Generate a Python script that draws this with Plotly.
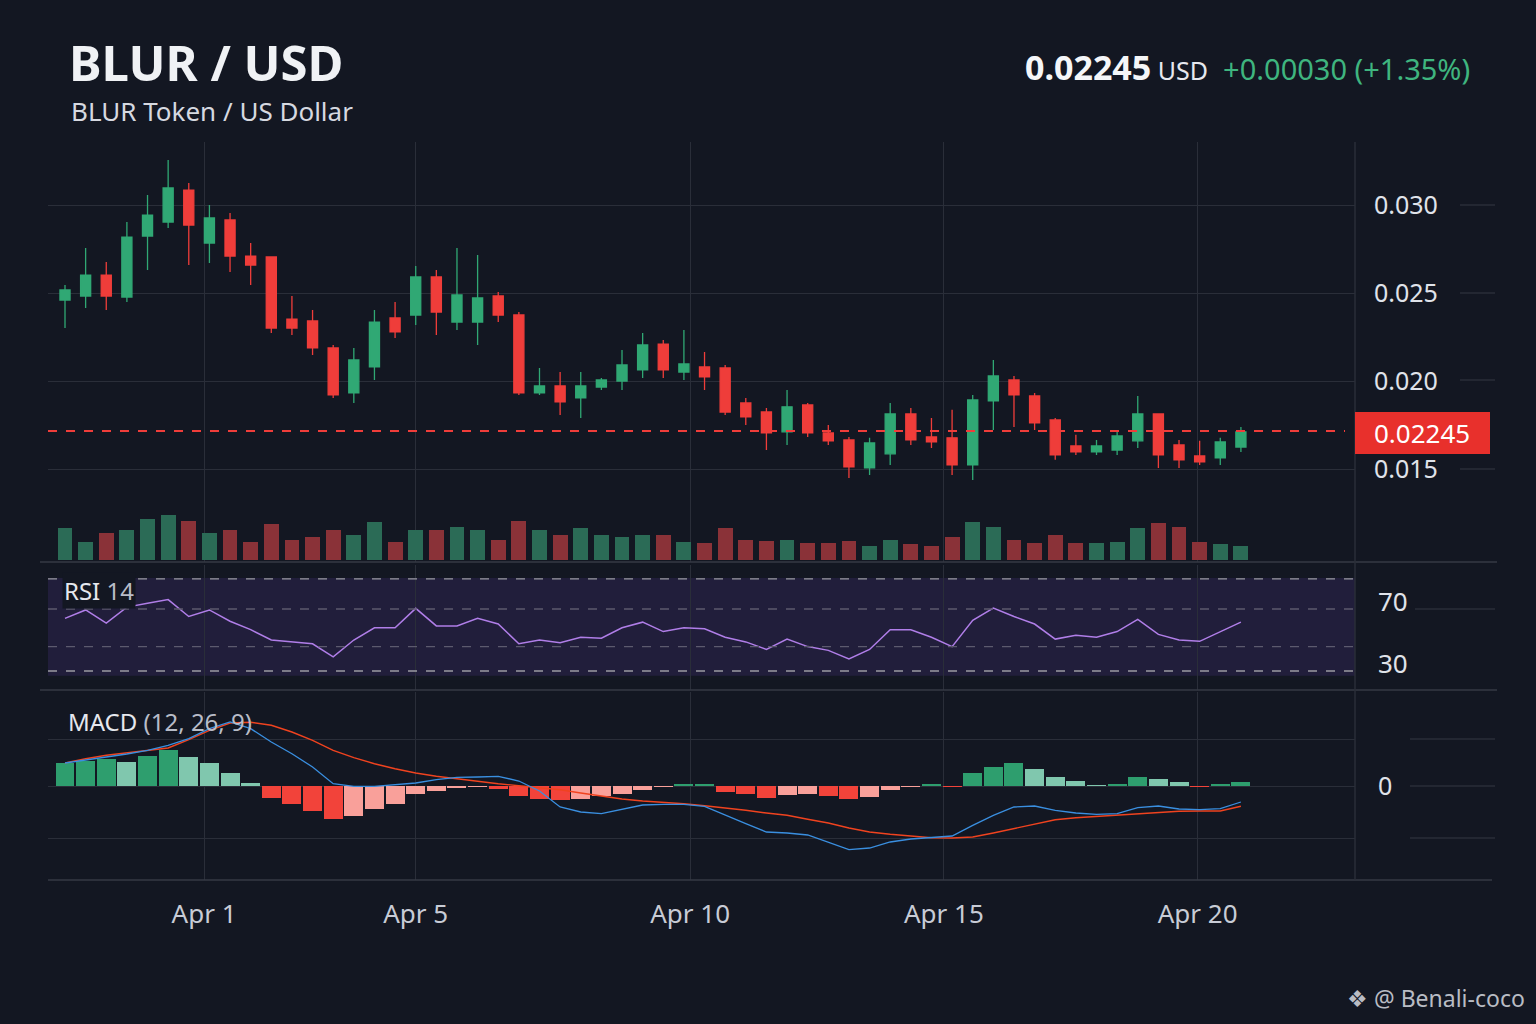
import plotly.graph_objects as go

W, H = 1536, 1024
BG = "#131722"
GRID = "#2a2e39"
GREEN = "#30a874"
RED = "#ef3d3a"

# ---------------- data ----------------
opens = [0.02460,0.02483,0.02602,0.02477,0.02824,0.02903,0.03085,0.02784,0.02915,0.02710,
         0.02705,0.02352,0.02341,0.02188,0.01932,0.02080,0.02358,0.02375,0.02591,0.02335,
         0.02335,0.02483,0.02375,0.01932,0.01972,0.01904,0.01966,0.02000,0.02063,0.02210,
         0.02051,0.02080,0.02074,0.01875,0.01824,0.01711,0.01864,0.01705,0.01665,0.01506,
         0.01586,0.01813,0.01682,0.01677,0.01523,0.01887,0.02006,0.01915,0.01779,0.01631,
         0.01597,0.01608,0.01660,0.01813,0.01637,0.01574,0.01563,0.01625]
closes = [0.02517,0.02602,0.02483,0.02818,0.02943,0.03097,0.02886,0.02926,0.02710,0.02659,
          0.02301,0.02301,0.02188,0.01921,0.02120,0.02335,0.02279,0.02591,0.02392,0.02489,
          0.02472,0.02375,0.01932,0.01972,0.01881,0.01972,0.02006,0.02091,0.02205,0.02063,
          0.02097,0.02023,0.01824,0.01796,0.01705,0.01853,0.01705,0.01660,0.01512,0.01648,
          0.01813,0.01665,0.01654,0.01523,0.01892,0.02029,0.01921,0.01762,0.01580,0.01597,
          0.01631,0.01688,0.01813,0.01580,0.01552,0.01540,0.01654,0.01711]
highs = [0.02546,0.02756,0.02676,0.02903,0.03057,0.03256,0.03125,0.03000,0.02955,0.02784,
         0.02705,0.02483,0.02404,0.02205,0.02188,0.02404,0.02449,0.02654,0.02631,0.02756,
         0.02716,0.02506,0.02392,0.02074,0.02051,0.02051,0.02017,0.02176,0.02273,0.02233,
         0.02290,0.02165,0.02091,0.01904,0.01847,0.01949,0.01875,0.01750,0.01682,0.01677,
         0.01875,0.01847,0.01790,0.01836,0.01921,0.02120,0.02029,0.01932,0.01790,0.01694,
         0.01665,0.01722,0.01915,0.01813,0.01665,0.01660,0.01677,0.01739]
lows = [0.02301,0.02415,0.02404,0.02449,0.02631,0.02869,0.02659,0.02671,0.02619,0.02546,
        0.02273,0.02262,0.02148,0.01904,0.01875,0.02006,0.02245,0.02318,0.02262,0.02290,
        0.02205,0.02335,0.01921,0.01921,0.01807,0.01790,0.01949,0.01949,0.02017,0.02017,
        0.02006,0.01949,0.01807,0.01750,0.01608,0.01637,0.01682,0.01637,0.01449,0.01466,
        0.01523,0.01637,0.01620,0.01466,0.01438,0.01722,0.01739,0.01722,0.01552,0.01580,
        0.01580,0.01580,0.01620,0.01506,0.01506,0.01523,0.01523,0.01597]
volume_m = [3.2,1.8,2.7,3.0,4.1,4.5,3.9,2.7,3.0,1.8,3.6,2.0,2.3,3.0,2.5,3.8,1.8,3.0,3.0,3.3,
            3.0,2.0,3.9,3.0,2.5,3.2,2.5,2.3,2.5,2.5,1.8,1.7,3.2,2.0,1.9,2.0,1.7,1.7,1.9,1.4,
            2.0,1.6,1.4,2.3,3.8,3.3,2.0,1.7,2.5,1.7,1.7,1.8,3.2,3.7,3.3,1.8,1.6,1.4]
rsi = [60,69,55,72,76,80,62,69,57,48,37,35,33,19,37,50,50,70.7,52,52,
       60,54,33,37,34,40,39,50,56,46,50,49,40,35,27,38,30,26,17,27,
       48,48,40,30,58,71,62,54,38,42,40,46,59,43,37,35.6,46,56]
macd = [23,25.7,29,32,35.7,40.7,47.3,57.3,64,57.3,44,32.3,19,2.3,-0.3,-0.3,1,3,6.3,8.7,
        9,9.7,5,-5,-21,-26,-27.7,-23.7,-19,-18.3,-18.3,-20.3,-29.3,-37.7,-46,-47,-49,-56,-63.7,-62,
        -56,-53,-51.7,-50,-39.3,-29.3,-21,-20,-24.3,-27,-28.3,-27.7,-21.7,-20,-23,-23.7,-22.7,-16]
signal = [23,27.3,30.7,33,35,38,46.3,55.7,63,63.7,60.7,54,45.7,35.7,28.3,22.3,17.3,13,9.7,7,
          4.7,2.3,0.3,-1.7,-3.7,-7,-10.3,-13,-15,-16.3,-17.7,-19.7,-21.7,-24.3,-27,-29.3,-33.3,-37,-42,-46,
          -48.3,-50.3,-51.7,-52,-51,-47,-42.7,-38.3,-33.7,-31.7,-30.3,-29.3,-27.7,-26.3,-25.3,-25,-25,-20.3]
hist = [23,24.7,26.7,24,30,35.7,29,23,13.3,3.3,-11.7,-18.3,-25.3,-32.7,-30.3,-23.3,-18.3,-7.7,-5.3,-1.7,
        -0.5,-2.7,-10,-12.7,-14.3,-13.3,-10.3,-7.7,-4.3,-0.7,1.5,2.3,-6,-8.3,-11.7,-9.3,-8.3,-10,-13.3,-11,
        -4.3,-0.5,1.2,-0.5,13,19,23,16.7,9,4.7,1.0,2.3,9,7.3,4,-0.5,1.7,4]
macd_scale = 1e-5
macd = [v * macd_scale for v in macd]
signal = [v * macd_scale for v in signal]
hist = [v * macd_scale for v in hist]

tick_labels = ["Apr 1", "Apr 5", "Apr 10", "Apr 15", "Apr 20"]
tick_pos = [6.74, 17.0, 30.3, 42.6, 54.9]
last_price_level = 0.01716
last_price_text = "0.02245"

idx = list(range(len(opens)))

def px(x): return x / W
def py(y): return 1 - y / H

x_left, x_right = 48, 1355
step = 20.63
x_range = [(x_left - 65) / step, (x_right - 65) / step]

fig = go.Figure()

fig.add_trace(go.Candlestick(x=idx, open=opens, high=highs, low=lows, close=closes,
    increasing=dict(line=dict(color=GREEN, width=1.3), fillcolor=GREEN),
    decreasing=dict(line=dict(color=RED, width=1.3), fillcolor=RED),
    whiskerwidth=0, xaxis="x", yaxis="y", showlegend=False))

vol_colors = ["#2b6b56" if c >= o else "#8a3238" for o, c in zip(opens, closes)]
fig.add_trace(go.Bar(x=idx, y=volume_m, marker=dict(color=vol_colors, line=dict(width=0)),
    width=0.72, xaxis="x", yaxis="y2", showlegend=False))

fig.add_trace(go.Scatter(x=idx, y=rsi, mode="lines", line=dict(color="#b07ee8", width=1.5),
    xaxis="x2", yaxis="y3", showlegend=False))

hcols = []
for i, h in enumerate(hist):
    prev = hist[i - 1] if i > 0 else 0
    if h >= 0:
        hcols.append("#2e9e6e" if h >= prev else "#80c7ae")
    else:
        hcols.append("#f2433a" if h <= prev else "#f9a09a")
fig.add_trace(go.Bar(x=idx, y=hist, marker=dict(color=hcols, line=dict(width=0)), width=0.92,
    xaxis="x3", yaxis="y4", showlegend=False))
fig.add_trace(go.Scatter(x=idx, y=signal, mode="lines", line=dict(color="#f0431f", width=1.4),
    xaxis="x3", yaxis="y4", showlegend=False))
fig.add_trace(go.Scatter(x=idx, y=macd, mode="lines", line=dict(color="#3a8fe0", width=1.3),
    xaxis="x3", yaxis="y4", showlegend=False))

p_top, p_bot = 142, 562
ppx = 17600.0
price_range = [0.030 - (p_bot - 205) / ppx, 0.030 + (205 - p_top) / ppx]
vmax = max(volume_m)
vol_range = [-(2 / 45) * vmax, vmax * (p_bot - p_top) / 45]
r_top, r_bot = 565, 690
rsi_range = [70 - (r_bot - 609) / 0.94, 70 + (609 - r_top) / 0.94]
m_top, m_bot = 692, 880
macd_range = [-(m_bot - 786) * macd_scale, (786 - m_top) * macd_scale]

xcommon = dict(range=x_range, domain=[px(x_left), px(x_right)], showgrid=True, gridcolor=GRID,
               gridwidth=1, tickvals=tick_pos, zeroline=False, showline=False)

fig.update_layout(
    width=W, height=H, paper_bgcolor=BG, plot_bgcolor=BG,
    margin=dict(l=0, r=0, t=0, b=0), bargap=0, showlegend=False,
    font=dict(family="Noto Sans", color="#d1d4dc"),
    xaxis=dict(**xcommon, anchor="y", showticklabels=False, rangeslider=dict(visible=False)),
    xaxis2=dict(**xcommon, anchor="y3", showticklabels=False, matches="x"),
    xaxis3=dict(**xcommon, anchor="y4", matches="x", ticktext=tick_labels,
                tickfont=dict(size=26, color="#c8ccd6"), ticks="", ticklabelstandoff=16),
    yaxis=dict(domain=[py(p_bot), py(p_top)], range=price_range, side="right",
               tickvals=[0.015, 0.020, 0.025, 0.030], ticktext=["0.015", "0.020", "0.025", "0.030"],
               tickfont=dict(size=25, color="#e0e3ea"), gridcolor=GRID, zeroline=False,
               ticklabelstandoff=18),
    yaxis2=dict(domain=[py(p_bot), py(p_top)], range=vol_range, overlaying="y",
                showticklabels=False, showgrid=False, zeroline=False),
    yaxis3=dict(domain=[py(r_bot), py(r_top)], range=rsi_range, side="right",
                showticklabels=False, showgrid=False, zeroline=False),
    yaxis4=dict(domain=[py(m_bot), py(m_top)], range=macd_range, side="right",
                tickvals=[-52 * macd_scale, 0, 47 * macd_scale], ticktext=["", "0", ""],
                tickfont=dict(size=25, color="#e0e3ea"), gridcolor=GRID, zeroline=False,
                ticklabelstandoff=22),
)

shapes = []
shapes.append(dict(type="rect", xref="x2 domain", yref="y3", x0=0, x1=1, y0=-1, y1=103,
                   fillcolor="rgba(110,70,190,0.16)", line=dict(width=0), layer="below"))
for lvl, col in [(102, "#9a9ba3"), (4, "#9a9ba3"), (70, "#5c5a6e"), (30, "#5c5a6e")]:
    shapes.append(dict(type="line", xref="x2 domain", yref="y3", x0=0, x1=1, y0=lvl, y1=lvl,
                       line=dict(color=col, width=1.4, dash="dash")))
for y in [205, 293, 380, 469, 609, 739, 786, 838]:
    x0 = 1460 if y in (205, 293, 380, 469) else (1415 if y == 609 else 1410)
    shapes.append(dict(type="line", xref="paper", yref="paper", x0=px(x0),
                       x1=px(1495), y0=py(y), y1=py(y), line=dict(color=GRID, width=1.5)))
for y in [562, 690]:
    shapes.append(dict(type="line", xref="paper", yref="paper", x0=px(40), x1=px(1497),
                       y0=py(y), y1=py(y), line=dict(color="#363a45", width=1.5)))
shapes.append(dict(type="line", xref="paper", yref="paper", x0=px(48), x1=px(1492),
                   y0=py(880), y1=py(880), line=dict(color="#363a45", width=1.5)))
shapes.append(dict(type="line", xref="paper", yref="paper", x0=px(1355), x1=px(1355),
                   y0=py(880), y1=py(142), line=dict(color="#2a2e39", width=1.5)))
shapes.append(dict(type="line", xref="x domain", yref="y", x0=0, x1=(1345 - x_left) / (x_right - x_left),
                   y0=last_price_level, y1=last_price_level, line=dict(color=RED, width=2, dash="dash")))
shapes.append(dict(type="rect", xref="paper", yref="paper", x0=px(1355), x1=px(1490),
                   y0=py(454), y1=py(412), fillcolor="#e8302c", line=dict(width=0)))
fig.update_layout(shapes=shapes)

ann = [
    dict(x=px(67), y=py(62), text="<b>BLUR / USD</b>", font=dict(size=49, color="#f0f2f5")),
    dict(x=px(69), y=py(111), text="BLUR Token / US Dollar", font=dict(size=26, color="#d6d9e0")),
    dict(x=px(1472), y=py(67), xanchor="right",
         text="<b><span style='font-size:34px;color:#f5f6f8'>0.02245</span></b>"
              "<span style='font-size:25px;color:#e6e8ee'> USD</span>"
              "<span style='font-size:29px;color:#3fb57f'>  +0.00030 (+1.35%)</span>",
         font=dict(size=29)),
    dict(x=px(1372), y=py(433), text=last_price_text, font=dict(size=26, color="#ffffff")),
    dict(x=px(62), y=py(590), text="RSI <span style='color:#b8bcc8'>14</span>",
         font=dict(size=24, color="#e6e8ee"), bgcolor=BG),
    dict(x=px(1376), y=py(601), text="70", font=dict(size=26, color="#e0e3ea")),
    dict(x=px(1376), y=py(663), text="30", font=dict(size=26, color="#e0e3ea")),
    dict(x=px(66), y=py(721), text="MACD <span style='color:#b8bcc8'>(12, 26, 9)</span>",
         font=dict(size=24, color="#e6e8ee")),
    dict(x=px(1527), y=py(998), xanchor="right", text="❖ @ Benali-coco",
         font=dict(size=23, color="#b9bcc4")),
]
for a in ann:
    a.setdefault("xanchor", "left")
    a.update(xref="paper", yref="paper", yanchor="middle", showarrow=False)
fig.update_layout(annotations=ann)

fig.write_html("out.html", config={"displayModeBar": False},
               post_script="document.body.style.margin='0';document.body.style.background='#131722';")
